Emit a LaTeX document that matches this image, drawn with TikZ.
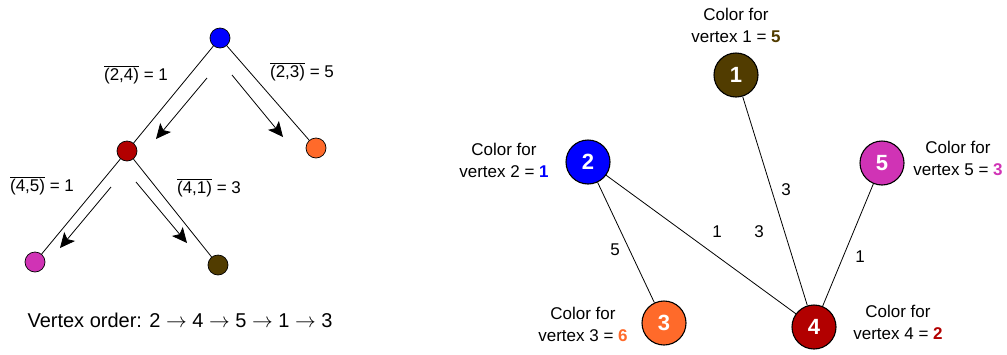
\documentclass[tikz,border=0pt]{standalone}
\usepackage{fontspec}
\setmainfont{Liberation Sans}
\usetikzlibrary{arrows.meta}
\definecolor{cblue}{HTML}{0000FF}
\definecolor{cred}{HTML}{B20000}
\definecolor{corange}{HTML}{FF6A2A}
\definecolor{cmag}{HTML}{D033B5}
\definecolor{cbrown}{HTML}{513C00}
\newcommand{\ovl}[1]{$\overline{\mbox{#1}}$}
\begin{document}
\begin{tikzpicture}[x=1pt,y=-1pt,
  tnode/.style={circle,draw,line width=0.7pt,minimum size=20pt,inner sep=0pt},
  gnode/.style={circle,draw,line width=1.1pt,minimum size=44pt,inner sep=0pt,text=white,font=\bfseries\fontsize{22}{22}\selectfont},
  lbl/.style={font=\fontsize{17}{22}\selectfont,align=center,inner sep=0pt},
  edge/.style={line width=0.8pt},
  flow/.style={line width=0.8pt,-{Stealth[length=15pt,width=14pt,inset=3.5pt]}}
]
\useasboundingbox (0,0) rectangle (1007,354);
% left tree
\node[tnode,fill=cblue]   (t2) at (220,38) {};
\node[tnode,fill=cred]    (t4) at (127,151) {};
\node[tnode,fill=corange] (t3) at (316,148) {};
\node[tnode,fill=cmag]    (t5) at (35,262) {};
\node[tnode,fill=cbrown]  (t1) at (218,265) {};
\draw[edge] (t2) -- (t4);
\draw[edge] (t2) -- (t3);
\draw[edge] (t4) -- (t5);
\draw[edge] (t4) -- (t1);
\coordinate (a1s) at (207,78);  \coordinate (a1e) at (156,139);
\coordinate (a2s) at (232,75);  \coordinate (a2e) at (283,137);
\coordinate (a3s) at (111,187); \coordinate (a3e) at (60,248);
\coordinate (a4s) at (136,182); \coordinate (a4e) at (187,243);
\draw[flow] (a1s) -- (a1e);
\draw[flow] (a2s) -- (a2e);
\draw[flow] (a3s) -- (a3e);
\draw[flow] (a4s) -- (a4e);
\node[lbl] (l24) at (136,75) {\ovl{(2,4)} = 1};
\node[lbl] (l23) at (302,72) {\ovl{(2,3)} = 5};
\node[lbl] (l45) at (42,186) {\ovl{(4,5)} = 1};
\node[lbl] (l41) at (209,188) {\ovl{(4,1)} = 3};
\node[lbl,font=\fontsize{20}{24}\selectfont] (order) at (180,320) {Vertex order: 2 $\rightarrow$ 4 $\rightarrow$ 5 $\rightarrow$ 1 $\rightarrow$ 3};
% right graph
\node[gnode,fill=cbrown]  (g1) at (736,75) {1};
\node[gnode,fill=cblue]   (g2) at (588,162) {2};
\node[gnode,fill=corange] (g3) at (664,323) {3};
\node[gnode,fill=cred]    (g4) at (814,327) {4};
\node[gnode,fill=cmag]    (g5) at (882,163) {5};
\draw[edge] (g1) -- (g4);
\draw[edge] (g2) -- (g4);
\draw[edge] (g2) -- (g3);
\draw[edge] (g5) -- (g4);
\node[lbl] (w14) at (786,190) {3};
\node[lbl] (w24) at (717,232) {1};
\node[lbl] (w14b) at (759,232) {3};
\node[lbl] (w23) at (615,250) {5};
\node[lbl] (w54) at (860,257) {1};
\node[lbl] (c1) at (736,25) {Color for\\vertex 1 = \textbf{\textcolor{cbrown}{5}}};
\node[lbl] (c2) at (504,160) {Color for\\vertex 2 = \textbf{\textcolor{cblue}{1}}};
\node[lbl] (c5) at (958,158) {Color for\\vertex 5 = \textbf{\textcolor{cmag}{3}}};
\node[lbl] (c4) at (898,322) {Color for\\vertex 4 = \textbf{\textcolor{cred}{2}}};
\node[lbl] (c3) at (583,324) {Color for\\vertex 3 = \textbf{\textcolor{corange}{6}}};
\end{tikzpicture}
\end{document}
